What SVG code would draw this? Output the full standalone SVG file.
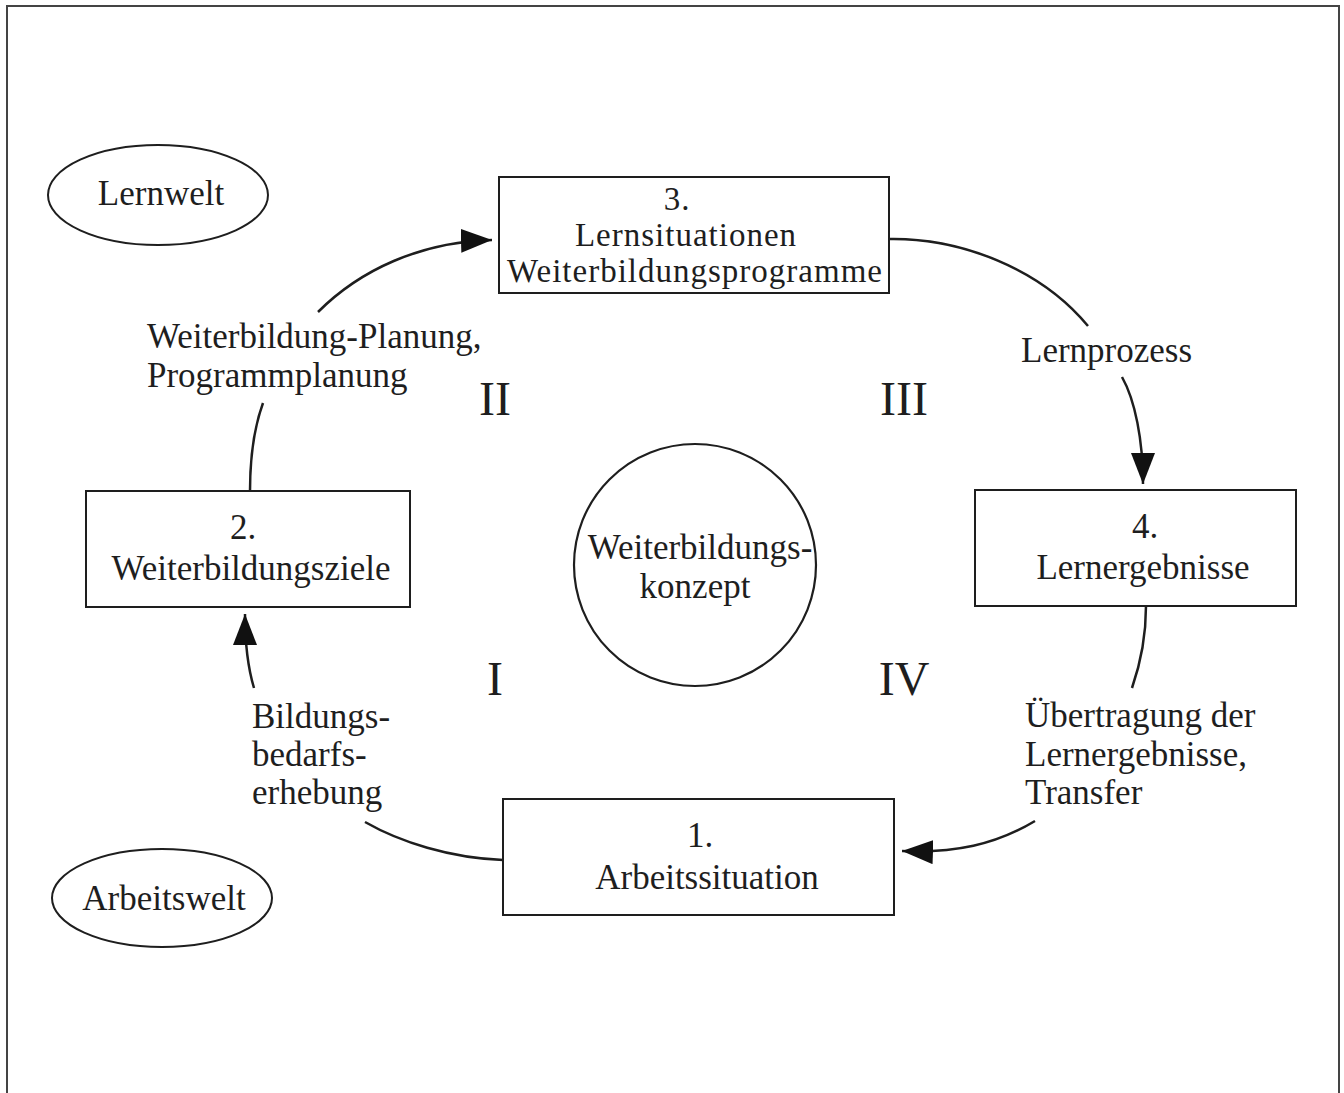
<svg xmlns="http://www.w3.org/2000/svg" width="1344" height="1093" viewBox="0 0 1344 1093">
<defs>
<style>
.t{font-family:"Liberation Serif","Times New Roman",serif;font-size:35px;fill:#1e1e1e}
.s{font-size:33px;letter-spacing:1px}
.c{text-anchor:middle}
.r{font-family:"Liberation Serif","Times New Roman",serif;font-size:48px;fill:#1e1e1e;text-anchor:middle}
.box{fill:#fff;stroke:#1e1e1e;stroke-width:2}
.ln{fill:none;stroke:#1e1e1e;stroke-width:2.5}
</style>
<marker id="ah" markerUnits="userSpaceOnUse" markerWidth="34" markerHeight="26" refX="31" refY="12" orient="auto">
<path d="M0,0 L31,12 L0,24 z" fill="#111"/>
</marker>
</defs>
<rect width="1344" height="1093" fill="#fff"/>
<path d="M7,1093 L7,6 L1339,6 L1339,1093" fill="none" stroke="#444" stroke-width="2"/>

<g id="connectors">
<path class="ln" d="M890,239 C960,238 1040,268 1088,326"/>
<path class="ln" d="M1122,377 C1135,400 1143,440 1143,484" marker-end="url(#ah)"/>
<path class="ln" d="M1146,606 C1146,640 1140,665 1132,688"/>
<path class="ln" d="M1035,821 C995,845 955,853 902,851" marker-end="url(#ah)"/>
<path class="ln" d="M503,860 C450,858 400,842 365,822"/>
<path class="ln" d="M254,688 C248,668 245,645 245,614" marker-end="url(#ah)"/>
<path class="ln" d="M250,491 C250,455 255,425 263,403"/>
<path class="ln" d="M318,312 C360,270 420,242 492,240" marker-end="url(#ah)"/>
</g>

<g id="lernwelt">
<ellipse cx="158" cy="195" rx="110" ry="50" fill="none" stroke="#1e1e1e" stroke-width="2"/>
<text class="t c" x="161" y="205">Lernwelt</text>
</g>

<g id="arbeitswelt">
<ellipse cx="162" cy="898" rx="110" ry="49" fill="none" stroke="#1e1e1e" stroke-width="2"/>
<text class="t c" x="164" y="910">Arbeitswelt</text>
</g>

<g id="box3">
<rect class="box" x="499" y="177" width="390" height="116"/>
<text class="t s c" x="677" y="210">3.</text>
<text class="t s c" x="686" y="246">Lernsituationen</text>
<text class="t s c" x="695" y="282">Weiterbildungsprogramme</text>
</g>

<g id="box2">
<rect class="box" x="86" y="491" width="324" height="116"/>
<text class="t c" x="243" y="539">2.</text>
<text class="t c" x="251" y="580">Weiterbildungsziele</text>
</g>

<g id="box4">
<rect class="box" x="975" y="490" width="321" height="116"/>
<text class="t c" x="1145" y="538">4.</text>
<text class="t c" x="1143" y="579">Lernergebnisse</text>
</g>

<g id="box1">
<rect class="box" x="503" y="799" width="391" height="116"/>
<text class="t c" x="700" y="847">1.</text>
<text class="t c" x="707" y="889">Arbeitssituation</text>
</g>

<g id="konzept">
<circle cx="695" cy="565" r="121" fill="none" stroke="#1e1e1e" stroke-width="2.2"/>
<text class="t c" x="700" y="559">Weiterbildungs-</text>
<text class="t c" x="695" y="598">konzept</text>
</g>

<g id="labels">
<text class="t" x="147" y="348">Weiterbildung-Planung,</text>
<text class="t" x="147" y="387">Programmplanung</text>
<text class="t" x="1021" y="362">Lernprozess</text>
<text class="t" x="252" y="728">Bildungs-</text>
<text class="t" x="252" y="766">bedarfs-</text>
<text class="t" x="252" y="804">erhebung</text>
<text class="t" x="1025" y="727">Übertragung der</text>
<text class="t" x="1025" y="766">Lernergebnisse,</text>
<text class="t" x="1025" y="804">Transfer</text>
<text class="r" x="495" y="415">II</text>
<text class="r" x="904" y="415">III</text>
<text class="r" x="495" y="695">I</text>
<text class="r" x="904" y="695">IV</text>
</g>
</svg>
